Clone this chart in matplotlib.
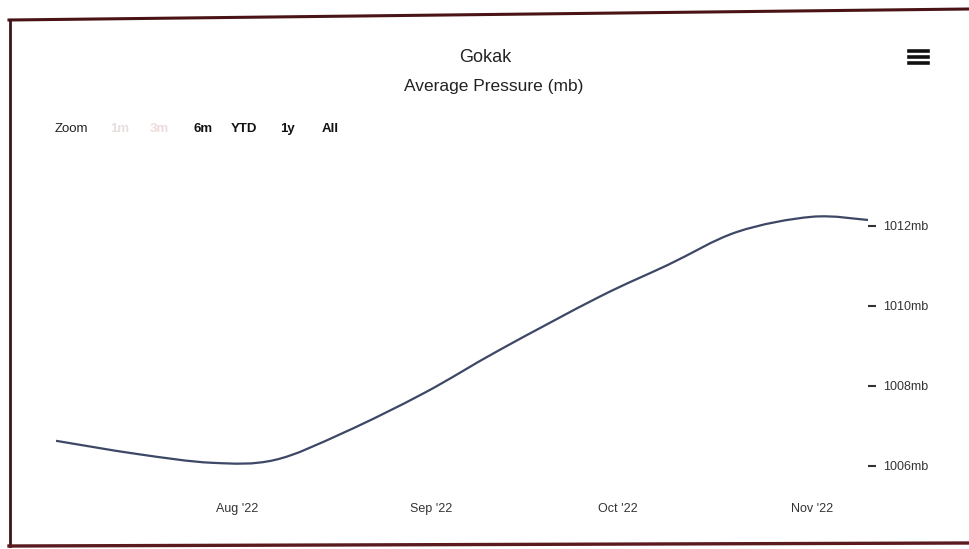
import matplotlib
matplotlib.use("Agg")
import matplotlib.pyplot as plt
import matplotlib.dates as mdates
from matplotlib.path import Path
from matplotlib.patches import PathPatch
from matplotlib.lines import Line2D
import numpy as np
import datetime as dt

# ---- data ----
dates = ["2022-07-03", "2022-07-16", "2022-07-28", "2022-08-07", "2022-08-18",
         "2022-08-31", "2022-09-12", "2022-09-28", "2022-10-09", "2022-10-20",
         "2022-11-01", "2022-11-10"]
pressure = [1006.63, 1006.30, 1006.08, 1006.15, 1006.83, 1007.83, 1008.90,
            1010.23, 1011.03, 1011.85, 1012.23, 1012.15]
ytick_vals = [1006, 1008, 1010, 1012]
ytick_labels = ["1006mb", "1008mb", "1010mb", "1012mb"]
xtick_dates = ["2022-08-01", "2022-09-01", "2022-10-01", "2022-11-01"]
xtick_labels = ["Aug '22", "Sep '22", "Oct '22", "Nov '22"]
title = "Gokak"
subtitle = "Average Pressure (mb)"
range_buttons = ["Zoom", "1m", "3m", "6m", "YTD", "1y", "All"]

plt.rcParams['font.family'] = ['Liberation Sans', 'DejaVu Sans']

W, H = 969, 549
fig = plt.figure(figsize=(W / 100, H / 100), dpi=100)
fig.patch.set_facecolor("white")

def fx(px):
    return px / W

def fy(py):
    return 1 - py / H

ax = fig.add_axes([fx(56), fy(486), fx(868) - fx(56), (486 - 160) / H])
ax.set_facecolor("white")

xd = mdates.date2num([dt.datetime.strptime(d, "%Y-%m-%d") for d in dates])
yd = np.array(pressure)

# smooth spline rendering (Catmull-Rom -> cubic bezier) through the data points
verts = [(xd[0], yd[0])]
codes = [Path.MOVETO]
n = len(xd)
for i in range(n - 1):
    p0 = (xd[i - 1], yd[i - 1]) if i > 0 else (xd[i], yd[i])
    p1 = (xd[i], yd[i])
    p2 = (xd[i + 1], yd[i + 1])
    p3 = (xd[i + 2], yd[i + 2]) if i + 2 < n else (xd[i + 1], yd[i + 1])
    c1 = (p1[0] + (p2[0] - p0[0]) / 6, p1[1] + (p2[1] - p0[1]) / 6)
    c2 = (p2[0] - (p3[0] - p1[0]) / 6, p2[1] - (p3[1] - p1[1]) / 6)
    verts += [c1, c2, p2]
    codes += [Path.CURVE4] * 3
ax.add_patch(PathPatch(Path(verts, codes), facecolor="none",
                       edgecolor="#3d4766", lw=1.6))

ax.set_xlim(xd[0], xd[-1])
ax.set_ylim(1005.5, 1013.65)

for s in ax.spines.values():
    s.set_visible(False)

ax.yaxis.tick_right()
ax.set_yticks(ytick_vals)
ax.set_yticklabels(ytick_labels)
ax.tick_params(axis="y", length=6, width=1.5, color="#333333", pad=5,
               labelsize=9, labelcolor="#333333")

xt = mdates.date2num([dt.datetime.strptime(d, "%Y-%m-%d") for d in xtick_dates])
ax.set_xticks(xt)
ax.set_xticklabels(xtick_labels)
ax.tick_params(axis="x", length=0, pad=12, labelsize=9, labelcolor="#333333")

# titles
fig.text(fx(485), fy(57), title, ha="center", va="center", fontsize=13, color="#222222")
fig.text(fx(494), fy(86), subtitle, ha="center", va="center", fontsize=12.5, color="#222222")

# range selector
btn_x = [55, 110, 150, 193, 231, 280, 322]
btn_col = ["#222222", "#e8dede", "#f0dada", "#111111", "#111111", "#111111", "#111111"]
for lab, x, c in zip(range_buttons, btn_x, btn_col):
    fig.text(fx(x), fy(129), lab, ha="left", va="center", fontsize=9.5,
             color=c, fontweight="bold" if lab != "Zoom" else "normal")

# hamburger icon
for yy in [51, 57, 63]:
    fig.add_artist(Line2D([fx(909), fx(928)], [fy(yy), fy(yy)], color="#111111", lw=2.6))

# photographed frame
fig.add_artist(Line2D([fx(9), fx(969)], [fy(20), fy(9)], color="#4a1416", lw=2.2))
fig.add_artist(Line2D([fx(10), fx(10)], [fy(20), fy(546)], color="#3a1416", lw=2.0))
fig.add_artist(Line2D([fx(9), fx(969)], [fy(546), fy(543)], color="#5a1a1e", lw=2.4))

fig.savefig("out.png", dpi=100, facecolor="white")
